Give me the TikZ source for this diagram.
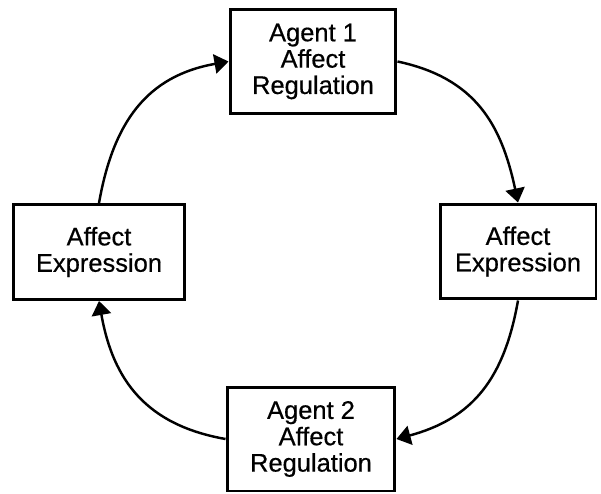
\documentclass[tikz,border=0pt]{standalone}
\usepackage{fontspec}
\setmainfont{Liberation Sans}[FakeBold=0.5]
\usepackage{tikz}
\usetikzlibrary{arrows.meta, positioning}

\begin{document}
\begin{tikzpicture}[x=0.02cm, y=-0.02cm,
        box/.style={draw, line width=1.7pt, align=center, inner sep=0pt,
            font=\fontsize{14.5}{15}\selectfont},
        cycle/.style={line width=1.4pt, looseness=1.1, -{Triangle[length=8pt, width=11pt]}}]
        % Rahmen in Bildgroesse
        \useasboundingbox (0,0) rectangle (601,493);

        % Kaesten
        \node[box, minimum width=3.32cm, minimum height=2.1cm] (reg1) at (313,61.5) {Agent 1\\Affect\\Regulation};
        \node[box, minimum width=3.12cm, minimum height=1.9cm] (exprR) at (518,251.5) {Affect\\Expression};
        \node[box, minimum width=3.36cm, minimum height=2.08cm] (reg2) at (311,439) {Agent 2\\Affect\\Regulation};
        \node[box, minimum width=3.44cm, minimum height=1.9cm] (exprL) at (99,252) {Affect\\Expression};

        % Kreislauf im Uhrzeigersinn
        \draw[cycle] (reg1.east) to[out=-12, in=102] (exprR.north);
        \draw[cycle] (exprR.south) to[out=-100, in=15] (reg2.east);
        \draw[cycle] (reg2.west) to[out=170, in=-80] (exprL.south);
        \draw[cycle] (exprL.north) to[out=80, in=190] (reg1.west);
\end{tikzpicture}
\end{document}
